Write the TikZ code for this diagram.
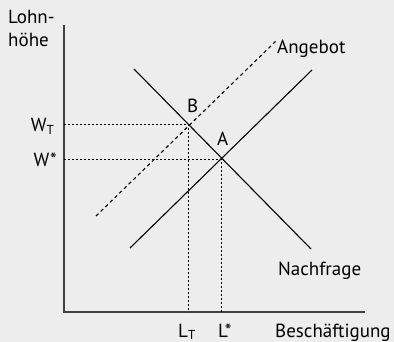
\documentclass[tikz,border=0pt]{standalone}
\usepackage{fontspec}
\setmainfont{PT Sans}
\usetikzlibrary{positioning}
\newcommand{\lowsub}[1]{\raisebox{-0.3ex}{\fontsize{13}{13}\selectfont #1}}
\begin{document}
\begin{tikzpicture}[x=1pt, y=-1pt, font=\fontsize{19}{22}\selectfont,
  every node/.style={inner sep=0pt, anchor=base west},
  axis/.style={line width=1.8pt, draw=black!75},
  curve/.style={line width=1.1pt},
  shifted/.style={line width=1.1pt, dash pattern=on 3.5pt off 3pt},
  guide/.style={line width=0.9pt, dash pattern=on 2pt off 2pt}]
  \fill[black!7] (0,0) rectangle (394,342);
  \useasboundingbox (0,0) rectangle (394,342);
  % --- axes ---
  \coordinate (O)    at (64,312);
  \coordinate (ytop) at (64,25);
  \coordinate (xend) at (365,312);
  \draw[axis] (ytop) -- (O) -- (xend);
  \node (lohn) at (8,24) {Lohn-};
  \node (hoehe) at (8,47) {höhe};
  \node (besch) at (275,337) {Beschäftigung};
  % --- curves ---
  \coordinate (d1) at (134,69);
  \coordinate (d2) at (311,249);
  \coordinate (s1) at (130,248);
  \coordinate (s2) at (312,70);
  \coordinate (t1) at (96,216);
  \coordinate (t2) at (276,41);
  \draw[curve] (d1) -- (d2);
  \draw[curve] (s1) -- (s2);
  \draw[shifted] (t1) -- (t2);
  \node (angebot) at (277,54) {Angebot};
  \node (nachfrage) at (278,276) {Nachfrage};
  % --- equilibria ---
  \coordinate (B) at (188,124);
  \coordinate (A) at (221,159.5);
  \coordinate (wT) at (B -| O);
  \coordinate (ws) at (A -| O);
  \coordinate (lT) at (B |- O);
  \coordinate (ls) at (A |- O);
  \draw[guide] (wT) -- (B) -- (lT);
  \draw[guide] (ws) -- (A) -- (ls);
  \node (labB) at (187,113) {B};
  \node (labA) at (217,146) {A};
  \node[anchor=base east] (labwT) at (54,132) {W\lowsub{T}};
  \node[anchor=base east] (labws) at (57,167) {W*};
  \node (lablT) at (178,337) {L\lowsub{T}};
  \node (labls) at (218,337) {L*};
\end{tikzpicture}
\end{document}
